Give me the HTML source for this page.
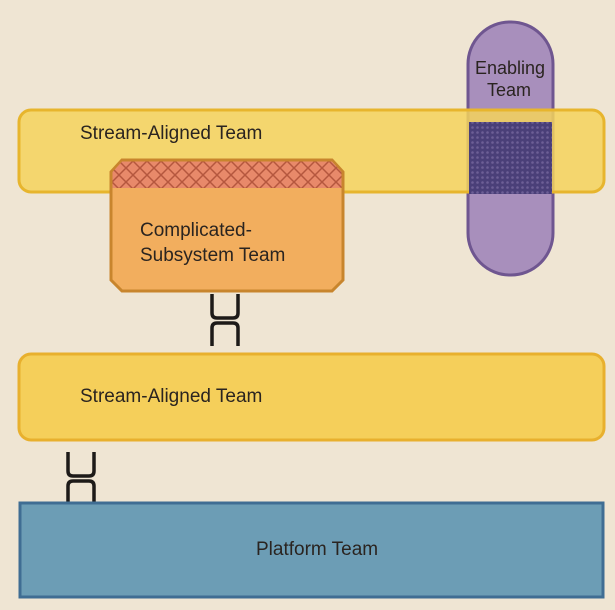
<!DOCTYPE html>
<html><head><style>
html,body{margin:0;padding:0;background:#efe5d3;}
body{width:615px;height:605px;overflow:hidden;}
text{font-family:"Liberation Sans",sans-serif;fill:#2a2420;}
</style></head><body>
<svg width="615" height="605" viewBox="0 0 615 605" xmlns="http://www.w3.org/2000/svg">
<defs>
<pattern id="dots" width="5" height="5" patternUnits="userSpaceOnUse">
<rect width="5" height="5" fill="#4a3f78"/>
<circle cx="2.5" cy="2.5" r="1.3" fill="#6d5f96"/>
</pattern>
<pattern id="hatch" width="14" height="14" patternUnits="userSpaceOnUse">
<rect width="14" height="14" fill="#e8896a"/>
<path d="M0 0L14 14M14 0L0 14" stroke="#b5573e" stroke-width="1.5"/>
</pattern>
</defs>
<rect x="0" y="0" width="615" height="605" fill="#efe5d3"/>
<rect x="468" y="22" width="85" height="253" rx="42" fill="#a88fbc" stroke="#6f5690" stroke-width="3"/>
<rect x="19" y="110" width="585" height="82" rx="12" fill="#f4d35c" fill-opacity="0.85" stroke="#e7b52d" stroke-width="3"/>
<rect x="469" y="122" width="83" height="72" fill="url(#dots)"/>
<text x="475" y="74" font-size="18">Enabling</text>
<text x="487" y="96" font-size="18">Team</text>
<text x="80" y="139" font-size="19">Stream-Aligned Team</text>
<path d="M122 160 L332 160 L343 172 L343 280 L332 291 L122 291 L111 280 L111 172 Z" fill="#f2ae5e" stroke="#c8852d" stroke-width="3"/>
<path d="M122 161.5 L332 161.5 L341.5 172 L341.5 188 L112.5 188 L112.5 172 Z" fill="url(#hatch)"/>
<text x="140" y="236" font-size="19">Complicated-</text>
<text x="140" y="261" font-size="19">Subsystem Team</text>
<g fill="none" stroke="#1d1a18" stroke-width="3.5">
<path d="M212 294 V313 Q212 318 217 318 H233 Q238 318 238 313 V294"/>
<path d="M212 346 V328 Q212 323 217 323 H233 Q238 323 238 328 V346"/>
</g>
<rect x="19" y="354" width="585" height="86" rx="12" fill="#f5cf5a" stroke="#e8b02e" stroke-width="3"/>
<text x="80" y="402" font-size="19">Stream-Aligned Team</text>
<g fill="none" stroke="#1d1a18" stroke-width="3.5">
<path d="M68 452 V471 Q68 476 73 476 H89 Q94 476 94 471 V452"/>
<path d="M68 504 V486 Q68 481 73 481 H89 Q94 481 94 486 V504"/>
</g>
<rect x="20" y="503" width="583" height="94" fill="#6c9db5" stroke="#3f6d93" stroke-width="3"/>
<text x="256" y="555" font-size="19">Platform Team</text>
</svg>
</body></html>
